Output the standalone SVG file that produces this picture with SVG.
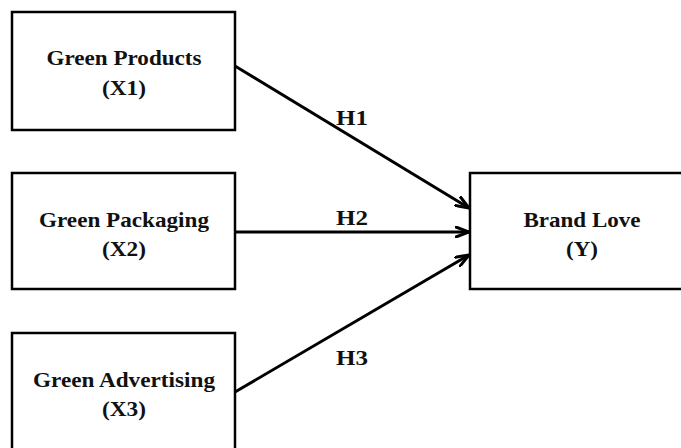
<svg xmlns="http://www.w3.org/2000/svg" width="681" height="448" viewBox="0 0 681 448">
<style>
.box{fill:#fff;stroke:#000;stroke-width:2.5}
.t{font-family:"Liberation Serif","Times New Roman",serif;font-weight:bold;font-size:21px;fill:#111;text-anchor:middle}
.h{font-family:"Liberation Serif","Times New Roman",serif;font-weight:bold;font-size:21px;fill:#111}
.c{stroke:#000;stroke-width:3;fill:none}
</style>
<defs>
<marker id="arr" viewBox="0 0 16 12" refX="14" refY="6" markerWidth="16" markerHeight="12" markerUnits="userSpaceOnUse" orient="auto">
<path d="M1,1 L14,6 L1,11" fill="none" stroke="#000" stroke-width="3" stroke-linejoin="miter" stroke-linecap="round"/>
</marker>
</defs>
<rect width="681" height="448" fill="#fff"/>
<g id="x1">
<rect class="box" x="12" y="12" width="223" height="118"/>
<text class="t" x="124" y="65" textLength="155" lengthAdjust="spacingAndGlyphs">Green Products</text>
<text class="t" x="124" y="95" textLength="44" lengthAdjust="spacingAndGlyphs">(X1)</text>
</g>
<g id="x2">
<rect class="box" x="12" y="173" width="223" height="116"/>
<text class="t" x="124" y="227" textLength="170" lengthAdjust="spacingAndGlyphs">Green Packaging</text>
<text class="t" x="124" y="256" textLength="44" lengthAdjust="spacingAndGlyphs">(X2)</text>
</g>
<g id="x3">
<rect class="box" x="12" y="333" width="223" height="125"/>
<text class="t" x="124" y="387" textLength="182" lengthAdjust="spacingAndGlyphs">Green Advertising</text>
<text class="t" x="124" y="416" textLength="44" lengthAdjust="spacingAndGlyphs">(X3)</text>
</g>
<g id="y">
<rect class="box" x="470" y="173" width="230" height="116"/>
<text class="t" x="582" y="227" textLength="117" lengthAdjust="spacingAndGlyphs">Brand Love</text>
<text class="t" x="582" y="256" textLength="32" lengthAdjust="spacingAndGlyphs">(Y)</text>
</g>
<g id="connectors">
<line class="c" x1="235" y1="66" x2="469" y2="208" marker-end="url(#arr)"/>
<line class="c" x1="235" y1="232" x2="469" y2="232" marker-end="url(#arr)"/>
<line class="c" x1="235" y1="392" x2="469" y2="255" marker-end="url(#arr)"/>
<text class="h" x="336" y="125" textLength="32" lengthAdjust="spacingAndGlyphs">H1</text>
<text class="h" x="336" y="225" textLength="32" lengthAdjust="spacingAndGlyphs">H2</text>
<text class="h" x="336" y="365" textLength="32" lengthAdjust="spacingAndGlyphs">H3</text>
</g>
</svg>
